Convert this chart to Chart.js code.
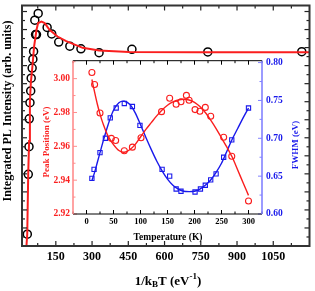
<!DOCTYPE html>
<html>
<head>
<meta charset="utf-8">
<script src="https://cdn.jsdelivr.net/npm/chart.js@4.4.0/dist/chart.umd.min.js"></script>
<style>
  html, body { margin: 0; padding: 0; background: #fff; }
  #wrap { position: relative; width: 315px; height: 291px; }
  #main { position: absolute; left: 0; top: 0; }
  #inset { position: absolute; left: 38px; top: 51px; }
</style>
</head>
<body>
<div id="wrap">
  <canvas id="main" width="315" height="291"></canvas>
  <canvas id="inset" width="266" height="193"></canvas>
</div>
<script>
// main panel: integrated PL intensity vs 1/kBT
const invKT = [32, 36, 39, 40, 43, 46, 48, 52, 55, 58, 63, 66, 70, 77, 114, 133, 162, 208, 254, 329, 465, 779, 1168];
const intensity = [4.9, 29.8, 41.3, 52.9, 59.6, 64.5, 69.8, 74.0, 77.7, 80.9, 93.9, 87.9, 87.9, 96.7, 90.9, 88.2, 84.8, 83.1, 82.0, 80.4, 81.8, 80.7, 80.8];
const fitInvKT = [28.4, 31.7, 35.8, 39.4, 42.7, 46.8, 52.1, 60.3, 70.1, 76.7, 90.6, 104, 124, 157, 193, 261, 329, 452, 738, 1200];
const fitIntensity = [0, 4.9, 30.2, 43.7, 60, 68.2, 73.6, 83.1, 89.9, 92.7, 93.3, 92.7, 89.9, 87.1, 85.2, 82.4, 81.3, 80.7, 80.6, 80.6];
const xMainTicks = [150, 300, 450, 600, 750, 900, 1050];

// inset: peak position and FWHM vs temperature
const tempPeak = [10, 15, 25, 46, 54, 70, 85, 101, 139, 154, 166, 175, 185, 190, 201, 210, 220, 230, 254, 269, 300];
const peakPos = [3.0036, 2.9965, 2.9797, 2.9647, 2.9634, 2.9574, 2.9595, 2.9651, 2.9805, 2.9884, 2.9849, 2.9863, 2.9901, 2.9872, 2.9817, 2.9807, 2.9830, 2.9778, 2.9654, 2.9541, 2.9277];
const tempFwhm = [10, 14, 25, 35, 44, 55, 70, 85, 99, 140, 154, 166, 175, 201, 211, 220, 230, 240, 254, 269, 300];
const fwhm = [0.647, 0.659, 0.681, 0.700, 0.727, 0.740, 0.746, 0.742, 0.717, 0.659, 0.650, 0.633, 0.630, 0.629, 0.633, 0.638, 0.645, 0.653, 0.675, 0.698, 0.740];
const tempFit = [10, 15, 20, 25, 30, 40, 50, 60, 70, 80, 90, 100, 110, 120, 130, 140, 150, 160, 170, 180, 190, 200, 210, 220, 230, 240, 250, 260, 270, 280, 290, 300];
const peakFit = [2.9995, 2.992, 2.985, 2.979, 2.974, 2.966, 2.961, 2.9575, 2.9565, 2.958, 2.961, 2.9655, 2.970, 2.974, 2.978, 2.9815, 2.9843, 2.9862, 2.9874, 2.9878, 2.9874, 2.986, 2.9835, 2.980, 2.9755, 2.9705, 2.965, 2.9595, 2.9535, 2.946, 2.9385, 2.931];
const fwhmFit = [0.644, 0.655, 0.668, 0.681, 0.694, 0.718, 0.737, 0.747, 0.749, 0.745, 0.734, 0.718, 0.701, 0.685, 0.670, 0.657, 0.646, 0.638, 0.633, 0.630, 0.6295, 0.630, 0.633, 0.638, 0.645, 0.655, 0.667, 0.683, 0.699, 0.713, 0.727, 0.740];
const tempTicks = [0, 50, 100, 150, 200, 250, 300];
const peakTicks = [2.92, 2.94, 2.96, 2.98, 3.00];
const fwhmTicks = [0.60, 0.65, 0.70, 0.75, 0.80];

const RED = 'rgb(250, 30, 30)';
const BLUE = 'rgb(25, 25, 235)';
const SERIF = "'Liberation Serif', 'DejaVu Serif', serif";

const pts = (xs, ys) => xs.map((x, i) => ({ x: x, y: ys[i] }));

// inward ticks along one side of the plot area
function sideTicks(ctx, scale, values, len, side, a) {
  values.forEach(v => {
    const p = scale.getPixelForValue(v);
    ctx.beginPath();
    if (side === 'bottom') { ctx.moveTo(p, a.bottom); ctx.lineTo(p, a.bottom - len); }
    if (side === 'top') { ctx.moveTo(p, a.top); ctx.lineTo(p, a.top + len); }
    if (side === 'left') { ctx.moveTo(a.left, p); ctx.lineTo(a.left + len, p); }
    if (side === 'right') { ctx.moveTo(a.right, p); ctx.lineTo(a.right - len, p); }
    ctx.stroke();
  });
}

function steps(from, to, step) {
  const out = [];
  for (let v = from; v <= to + 1e-9; v += step) out.push(+v.toFixed(4));
  return out;
}

const mainDecor = {
  id: 'mainDecor',
  afterDraw(chart) {
    const ctx = chart.ctx, a = chart.chartArea;
    const sx = chart.scales.x, sy = chart.scales.y;
    ctx.save();
    ctx.strokeStyle = '#222';
    ctx.lineWidth = 1.2;
    const xMinor = xMainTicks.map(v => v - 75).concat([1125]);
    const yMajor = steps(0, 100, 7.5), yMinor = steps(3.75, 100, 7.5);
    ['bottom', 'top'].forEach(s => {
      sideTicks(ctx, sx, xMainTicks, 5, s, a);
      sideTicks(ctx, sx, xMinor, 3, s, a);
    });
    ['left', 'right'].forEach(s => {
      sideTicks(ctx, sy, yMajor, 5, s, a);
      sideTicks(ctx, sy, yMinor, 3, s, a);
    });
    ctx.strokeStyle = '#333';
    ctx.lineWidth = 2;
    ctx.strokeRect(a.left, a.top, a.right - a.left, a.bottom - a.top);

    // y title
    ctx.fillStyle = '#000';
    ctx.font = 'bold 12px ' + SERIF;
    ctx.textAlign = 'center';
    ctx.textBaseline = 'middle';
    ctx.translate(8, 111);
    ctx.rotate(-Math.PI / 2);
    ctx.fillText('Integrated PL Intensity (arb. units)', 0, 0);
    ctx.setTransform(1, 0, 0, 1, 0, 0);

    // x title: 1/kBT (eV-1) with sub/superscript
    const big = 'bold 13px ' + SERIF, small = 'bold 9px ' + SERIF;
    const parts = [['1/k', big, 0], ['B', small, 3], ['T (eV', big, 0], ['-1', small, -5], [')', big, 0]];
    let w = 0;
    parts.forEach(p => { ctx.font = p[1]; w += ctx.measureText(p[0]).width; });
    let x = 168 - w / 2;
    ctx.textAlign = 'left';
    parts.forEach(p => {
      ctx.font = p[1];
      ctx.fillText(p[0], x, 282 + p[2]);
      x += ctx.measureText(p[0]).width;
    });
    ctx.restore();
  }
};

const insetDecor = {
  id: 'insetDecor',
  afterDraw(chart) {
    const ctx = chart.ctx, a = chart.chartArea;
    const sx = chart.scales.x, sl = chart.scales.y, sr = chart.scales.y1;
    ctx.save();
    ctx.lineWidth = 1;
    ctx.strokeStyle = '#000';
    const tMinor = steps(-25, 325, 25);
    ['bottom', 'top'].forEach(s => {
      sideTicks(ctx, sx, tempTicks, 4, s, a);
      sideTicks(ctx, sx, tMinor, 2.5, s, a);
    });
    ctx.strokeStyle = 'rgb(255, 140, 140)';
    sideTicks(ctx, sl, peakTicks, 4, 'left', a);
    sideTicks(ctx, sl, steps(2.93, 3.01, 0.02), 2.5, 'left', a);
    ctx.strokeStyle = 'rgb(130, 130, 255)';
    sideTicks(ctx, sr, fwhmTicks, 4, 'right', a);
    sideTicks(ctx, sr, steps(0.625, 0.80, 0.05), 2.5, 'right', a);

    // frame
    ctx.strokeStyle = '#000';
    ctx.lineWidth = 1;
    ctx.beginPath();
    ctx.moveTo(a.left, a.top); ctx.lineTo(a.right, a.top);
    ctx.moveTo(a.left, a.bottom); ctx.lineTo(a.right, a.bottom);
    ctx.stroke();
    ctx.lineWidth = 1.6;
    ctx.strokeStyle = 'rgb(255, 140, 140)';
    ctx.beginPath(); ctx.moveTo(a.left, a.top); ctx.lineTo(a.left, a.bottom); ctx.stroke();
    ctx.strokeStyle = 'rgb(130, 130, 255)';
    ctx.beginPath(); ctx.moveTo(a.right, a.top); ctx.lineTo(a.right, a.bottom); ctx.stroke();

    // titles
    ctx.textAlign = 'center';
    ctx.textBaseline = 'middle';
    ctx.font = 'bold 9px ' + SERIF;
    ctx.fillStyle = RED;
    ctx.translate(9, 91);
    ctx.rotate(-Math.PI / 2);
    ctx.fillText('Peak Position (eV)', 0, 0);
    ctx.setTransform(1, 0, 0, 1, 0, 0);
    ctx.fillStyle = BLUE;
    ctx.translate(258, 94);
    ctx.rotate(-Math.PI / 2);
    ctx.fillText('FWHM (eV)', 0, 0);
    ctx.setTransform(1, 0, 0, 1, 0, 0);
    ctx.fillStyle = '#000';
    ctx.font = 'bold 9.5px ' + SERIF;
    ctx.fillText('Temperature (K)', 130, 187);
    ctx.restore();
  }
};

new Chart(document.getElementById('main'), {
  type: 'scatter',
  data: {
    datasets: [
      {
        data: pts(fitInvKT, fitIntensity),
        showLine: true,
        pointRadius: 0,
        borderColor: RED,
        borderWidth: 2,
      },
      {
        data: pts(invKT, intensity),
        pointRadius: 4,
        borderColor: '#000',
        borderWidth: 1.5,
        backgroundColor: 'rgba(0,0,0,0)',
      },
    ],
  },
  options: {
    responsive: false,
    animation: false,
    devicePixelRatio: 1,
    layout: { padding: { top: 2, right: 2, left: 0, bottom: 0 } },
    plugins: { legend: { display: false }, tooltip: { enabled: false } },
    scales: {
      x: {
        type: 'linear',
        min: 10,
        max: 1200,
        grid: { display: false, drawTicks: false },
        border: { display: false },
        ticks: {
          font: { family: SERIF, weight: 'bold', size: 12 },
          color: '#000',
          padding: 4,
          callback: v => String(v),
        },
        afterBuildTicks: s => { s.ticks = xMainTicks.map(v => ({ value: v })); },
        afterFit: s => { s.height = 45; },
      },
      y: {
        type: 'linear',
        min: 0,
        max: 100,
        grid: { display: false, drawTicks: false },
        border: { display: false },
        ticks: { display: false },
        afterFit: s => { s.width = 22; },
      },
    },
  },
  plugins: [mainDecor],
});

new Chart(document.getElementById('inset'), {
  type: 'scatter',
  data: {
    datasets: [
      {
        data: pts(tempFit, peakFit),
        yAxisID: 'y',
        showLine: true,
        pointRadius: 0,
        borderColor: RED,
        borderWidth: 1.4,
        tension: 0.3,
      },
      {
        data: pts(tempFit, fwhmFit),
        yAxisID: 'y1',
        showLine: true,
        pointRadius: 0,
        borderColor: BLUE,
        borderWidth: 1.4,
        tension: 0.3,
      },
      {
        data: pts(tempPeak, peakPos),
        yAxisID: 'y',
        pointRadius: 3,
        borderColor: RED,
        borderWidth: 1.1,
        backgroundColor: 'rgba(0,0,0,0)',
      },
      {
        data: pts(tempFwhm, fwhm),
        yAxisID: 'y1',
        pointStyle: 'rect',
        pointRadius: 3,
        borderColor: BLUE,
        borderWidth: 1.1,
        backgroundColor: 'rgba(0,0,0,0)',
      },
    ],
  },
  options: {
    responsive: false,
    animation: false,
    devicePixelRatio: 1,
    layout: { padding: { top: 6, right: 0, left: 0, bottom: 0 } },
    plugins: { legend: { display: false }, tooltip: { enabled: false } },
    scales: {
      x: {
        type: 'linear',
        min: -25,
        max: 325,
        grid: { display: false, drawTicks: false },
        border: { display: false },
        ticks: { font: { family: SERIF, weight: 'bold', size: 8.5 }, color: '#000', padding: 3 },
        afterBuildTicks: s => { s.ticks = tempTicks.map(v => ({ value: v })); },
        afterFit: s => { s.height = 30; },
      },
      y: {
        type: 'linear',
        position: 'left',
        min: 2.92,
        max: 3.0106,
        grid: { display: false, drawTicks: false },
        border: { display: false },
        ticks: {
          font: { family: SERIF, weight: 'bold', size: 9.5 },
          color: RED,
          padding: 3,
          callback: v => v.toFixed(2),
        },
        afterBuildTicks: s => { s.ticks = peakTicks.map(v => ({ value: v })); },
        afterFit: s => { s.width = 35; },
      },
      y1: {
        type: 'linear',
        position: 'right',
        min: 0.60,
        max: 0.8025,
        grid: { display: false, drawTicks: false },
        border: { display: false },
        ticks: {
          font: { family: SERIF, weight: 'bold', size: 9.5 },
          color: BLUE,
          padding: 4,
          callback: v => v.toFixed(2),
        },
        afterBuildTicks: s => { s.ticks = fwhmTicks.map(v => ({ value: v })); },
        afterFit: s => { s.width = 42; },
      },
    },
  },
  plugins: [insetDecor],
});
</script>
</body>
</html>
